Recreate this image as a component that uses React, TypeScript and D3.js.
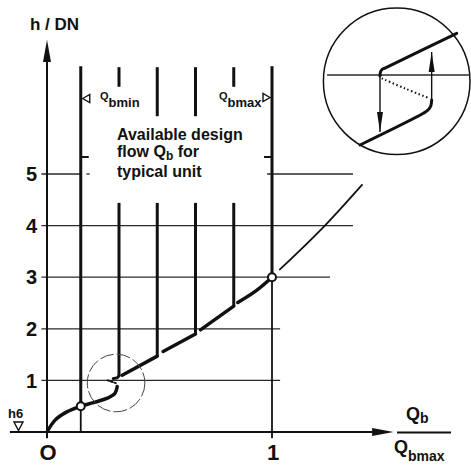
import React, { useRef, useEffect } from 'react';
import * as d3 from 'd3';

type Pt = [number, number];

const width = 471;
const height = 468;

// axis ticks
const xTicks = [0, 1];
const xTickText = ['O', '1'];
const yTicks = [1, 2, 3, 4, 5];

// horizontal h/DN grid lines, as [from, to] pieces in Qb/Qbmax
const gridPieces: Pt[][] = [
  [[-0.025, 1.036]],
  [[-0.025, 1.036]],
  [[-0.025, 1.258]],
  [[-0.025, 1.36]],
  [[-0.025, 0.15], [0.175, 0.19], [0.978, 1.36]],
];

// limits of the typical unit
const qbMin = 0.15;
const qbMax = 1.0;
const limitTop = 7.09;
const limitTick = 5.33;
const qbMinPoint: Pt = [0.15, 0.5];
const qbMaxPoint: Pt = [1.0, 3.0];

// intermediate unit lines (upper stub and lower drop to the curve)
const unitQ = [0.32, 0.49, 0.66, 0.83];
const unitStubTop = 7.07;
const unitStubEnd = [6.69, 6.12, 6.12, 6.69];
const unitDropTop = 4.44;
const unitDropEnd = [1.08, 1.47, 1.9, 2.44];

// characteristic h/DN over Qb/Qbmax
const lowerBranch: Pt[] = [
  [0, 0], [0.036, 0.23], [0.088, 0.39], [0.15, 0.5], [0.206, 0.57],
  [0.265, 0.65], [0.302, 0.75], [0.312, 0.88],
];
const unstable: Pt[] = [[0.27, 1.0], [0.29, 0.97], [0.31, 0.94]];
const upperHook: Pt[] = [[0.32, 1.09], [0.312, 1.05], [0.295, 1.035]];
const upperSegments: Pt[][] = [
  [[0.334, 1.1], [0.49, 1.47]],
  [[0.516, 1.56], [0.66, 1.9]],
  [[0.682, 1.98], [0.83, 2.44]],
  [[0.848, 2.51], [0.93, 2.74], [1.0, 3.0]],
];
const beyondMax: Pt[] = [[1.035, 3.15], [1.235, 4.0], [1.4, 4.79]];

// detail circle on the chart and its enlarged inset
const zoomCircle = { q: 0.307, h: 0.95, rq: 0.128 };
const inset = { cx: 396.7, cy: 81.3, r: 73.3 };
const insetLevel = 0.086;
const insetUpper: Pt[] = [[-0.228, 0.072], [-0.221, 0.127], [-0.2, 0.161], [-0.16, 0.181], [0.819, 0.655]];
const insetLower: Pt[] = [[-0.5, -0.869], [0.363, -0.437], [0.427, -0.392], [0.465, -0.337], [0.477, -0.255]];
const insetDotted: Pt[] = [[-0.205, 0.041], [0.113, -0.098], [0.445, -0.232]];
const insetDown: Pt[] = [[-0.228, 0.072], [-0.228, -0.69]];
const insetUp: Pt[] = [[0.477, -0.255], [0.477, 0.4]];

const font = "'Liberation Sans', Arial, sans-serif";
const ink = '#111';

export default function App() {
  const svgRef = useRef<SVGSVGElement>(null);

  useEffect(() => {
    const svg = d3.select(svgRef.current).attr('width', width).attr('height', height);
    svg.selectAll('*').remove();

    const x = d3.scaleLinear().domain([0, 1]).range([47, 272]);
    const y = d3.scaleLinear().domain([0, 5]).range([432, 174]);
    const line = d3.line<Pt>().x(d => x(d[0])).y(d => y(d[1]));
    const smooth = d3.line<Pt>().x(d => x(d[0])).y(d => y(d[1])).curve(d3.curveCatmullRom.alpha(0.5));

    svg.append('rect').attr('width', width).attr('height', height).attr('fill', '#fff');

    // grid
    const grid = svg.append('g').attr('stroke', '#2a2a2a').attr('stroke-width', 1.3);
    yTicks.forEach((h, i) => {
      gridPieces[i].forEach(([a, b]) => {
        grid.append('line')
          .attr('x1', x(a)).attr('x2', x(b))
          .attr('y1', y(h)).attr('y2', y(h));
      });
    });

    // axes
    const axes = svg.append('g').attr('stroke', ink).attr('stroke-width', 2).attr('fill', ink);
    axes.append('line')
      .attr('x1', x(0)).attr('x2', x(0))
      .attr('y1', y(-0.12)).attr('y2', y(7.2));
    axes.append('path')
      .attr('stroke', 'none')
      .attr('d', `M${x(0)},${y(7.6)} L${x(0) - 4},${y(7.17)} L${x(0) + 4},${y(7.17)} Z`);
    axes.append('line')
      .attr('x1', x(-0.165)).attr('x2', x(1.46))
      .attr('y1', y(0)).attr('y2', y(0));
    axes.append('path')
      .attr('stroke', 'none')
      .attr('d', `M${x(1.54)},${y(0)} L${x(1.445)},${y(0) - 4} L${x(1.445)},${y(0) + 4} Z`);
    axes.append('line')
      .attr('x1', x(1)).attr('x2', x(1))
      .attr('y1', y(0)).attr('y2', y(-0.12))
      .attr('stroke-width', 1.8);

    // tick labels
    const labels = svg.append('g')
      .attr('font-family', font).attr('font-weight', 'bold').attr('fill', ink);
    labels.selectAll('text.y')
      .data(yTicks)
      .enter()
      .append('text')
      .attr('x', 37)
      .attr('y', d => y(d))
      .attr('dy', '0.36em')
      .attr('text-anchor', 'end')
      .attr('font-size', 20)
      .text(d => d);
    labels.selectAll('text.x')
      .data(xTicks)
      .enter()
      .append('text')
      .attr('x', d => x(d) + 1)
      .attr('y', 460)
      .attr('text-anchor', 'middle')
      .attr('font-size', 22)
      .text((_, i) => xTickText[i]);

    labels.append('text').attr('x', 30).attr('y', 30).attr('font-size', 17).text('h / DN');

    // Qb / Qbmax fraction
    const qb = labels.append('text').attr('x', 406).attr('y', 420).attr('font-size', 18);
    qb.append('tspan').text('Q');
    qb.append('tspan').attr('dy', 3).attr('font-size', 14).text('b');
    labels.append('line')
      .attr('x1', 397).attr('x2', 451).attr('y1', 432.5).attr('y2', 432.5)
      .attr('stroke', ink).attr('stroke-width', 2);
    const qbm = labels.append('text').attr('x', 394).attr('y', 453).attr('font-size', 18);
    qbm.append('tspan').text('Q');
    qbm.append('tspan').attr('dy', 8).attr('font-size', 14).text('bmax');

    // h6 marker
    labels.append('text').attr('x', 8).attr('y', 418).attr('font-size', 13).text('h6');
    svg.append('path')
      .attr('d', `M14,422 L23,422 L18.5,${y(0) - 1.5} Z`)
      .attr('fill', 'none').attr('stroke', ink).attr('stroke-width', 1.4);

    // limit lines Qbmin / Qbmax
    const limits = svg.append('g').attr('stroke', ink).attr('fill', 'none');
    [[qbMin, qbMinPoint[1]], [qbMax, qbMaxPoint[1]]].forEach(([q, h]) => {
      limits.append('line')
        .attr('x1', x(q)).attr('x2', x(q)).attr('y1', y(limitTop)).attr('y2', y(h))
        .attr('stroke-width', 3);
      limits.append('line')
        .attr('x1', x(q)).attr('x2', x(q)).attr('y1', y(h)).attr('y2', y(0))
        .attr('stroke-width', 1.8);
    });
    limits.append('line')
      .attr('x1', x(qbMin)).attr('x2', x(qbMin) + 8)
      .attr('y1', y(limitTick)).attr('y2', y(limitTick)).attr('stroke-width', 2);
    limits.append('line')
      .attr('x1', x(qbMax)).attr('x2', x(qbMax) - 8)
      .attr('y1', y(limitTick)).attr('y2', y(limitTick)).attr('stroke-width', 2);
    // open triangles
    limits.append('path')
      .attr('d', `M${x(qbMin) + 2},98.5 L${x(qbMin) + 9},94.5 L${x(qbMin) + 9},102.5 Z`)
      .attr('stroke-width', 1.4);
    limits.append('path')
      .attr('d', `M${x(qbMax) - 2},97.5 L${x(qbMax) - 9},93.5 L${x(qbMax) - 9},101.5 Z`)
      .attr('stroke-width', 1.4);

    const qmin = labels.append('text').attr('x', 100).attr('y', 99.5).attr('font-size', 11);
    qmin.append('tspan').text('Q');
    qmin.append('tspan').attr('dy', 7.5).attr('font-size', 13).text('bmin');
    const qmax = labels.append('text').attr('x', 219).attr('y', 99.5).attr('font-size', 11);
    qmax.append('tspan').text('Q');
    qmax.append('tspan').attr('dy', 7.5).attr('font-size', 13).text('bmax');

    // annotation
    const note = labels.append('g').attr('font-size', 16);
    note.append('text').attr('x', 117).attr('y', 140).text('Available design');
    const flow = note.append('text').attr('x', 117).attr('y', 157);
    flow.append('tspan').text('flow Q');
    flow.append('tspan').attr('dy', 3).attr('font-size', 12).text('b');
    flow.append('tspan').attr('dy', -3).text(' for');
    note.append('text').attr('x', 117).attr('y', 177).text('typical unit');

    // unit lines
    const units = svg.append('g').attr('stroke', ink).attr('stroke-width', 3).attr('fill', 'none');
    unitQ.forEach((q, i) => {
      units.append('line')
        .attr('x1', x(q)).attr('x2', x(q))
        .attr('y1', y(unitStubTop)).attr('y2', y(unitStubEnd[i]));
      units.append('line')
        .attr('x1', x(q)).attr('x2', x(q))
        .attr('y1', y(unitDropTop)).attr('y2', y(unitDropEnd[i]));
    });

    // characteristic
    const curve = svg.append('g').attr('stroke', ink).attr('fill', 'none')
      .attr('stroke-linecap', 'round').attr('stroke-linejoin', 'round');
    curve.append('path').attr('d', smooth(lowerBranch)).attr('stroke-width', 3.5);
    curve.append('path').attr('d', line(unstable))
      .attr('stroke-width', 2).attr('stroke-dasharray', '1.5,2');
    curve.append('path').attr('d', smooth(upperHook)).attr('stroke-width', 3);
    upperSegments.forEach(seg => {
      curve.append('path').attr('d', smooth(seg)).attr('stroke-width', 3.5);
    });
    curve.append('path')
      .attr('d', d3.line<Pt>().x(d => x(d[0])).y(d => y(d[1])).curve(d3.curveMonotoneX)(beyondMax))
      .attr('stroke-width', 1.8);

    // operating points
    svg.selectAll('circle.pt')
      .data([qbMinPoint, qbMaxPoint])
      .enter()
      .append('circle')
      .attr('cx', d => x(d[0]))
      .attr('cy', d => y(d[1]))
      .attr('r', 4)
      .attr('fill', '#fff')
      .attr('stroke', ink)
      .attr('stroke-width', 2);

    // detail circle
    svg.append('circle')
      .attr('cx', x(zoomCircle.q)).attr('cy', y(zoomCircle.h))
      .attr('r', x(zoomCircle.q + zoomCircle.rq) - x(zoomCircle.q))
      .attr('fill', 'none').attr('stroke', '#444').attr('stroke-width', 1)
      .attr('stroke-dasharray', '14,3');

    // inset
    const ix = d3.scaleLinear().domain([-1, 1]).range([inset.cx - inset.r, inset.cx + inset.r]);
    const iy = d3.scaleLinear().domain([-1, 1]).range([inset.cy + inset.r, inset.cy - inset.r]);
    const iline = d3.line<Pt>().x(d => ix(d[0])).y(d => iy(d[1]));
    const ismooth = d3.line<Pt>().x(d => ix(d[0])).y(d => iy(d[1])).curve(d3.curveCatmullRom.alpha(0.5));
    const ig = svg.append('g').attr('fill', 'none').attr('stroke', ink)
      .attr('stroke-linecap', 'round').attr('stroke-linejoin', 'round');
    ig.append('circle').attr('cx', inset.cx).attr('cy', inset.cy).attr('r', inset.r)
      .attr('stroke-width', 1.5);
    ig.append('line')
      .attr('x1', ix(-0.95)).attr('x2', ix(1)).attr('y1', iy(insetLevel)).attr('y2', iy(insetLevel))
      .attr('stroke', '#2a2a2a').attr('stroke-width', 1.3).attr('stroke-linecap', 'butt');
    ig.append('path').attr('d', ismooth(insetUpper)).attr('stroke-width', 3);
    ig.append('path').attr('d', ismooth(insetLower)).attr('stroke-width', 3);
    ig.append('path').attr('d', ismooth(insetDotted))
      .attr('stroke-width', 2).attr('stroke-dasharray', '1.5,2.5').attr('stroke-linecap', 'butt');
    [insetDown, insetUp].forEach(seg => {
      const [, tip] = seg;
      const dir = tip[1] > seg[0][1] ? 1 : -1;
      ig.append('path').attr('d', iline(seg)).attr('stroke-width', 1.4).attr('stroke-linecap', 'butt');
      const tx = ix(tip[0]);
      const ty = iy(tip[1]);
      ig.append('path')
        .attr('d', `M${tx},${ty} L${tx - 3},${ty + dir * 20} L${tx + 3},${ty + dir * 20} Z`)
        .attr('fill', ink).attr('stroke', 'none');
    });
  }, []);

  return (
    <svg
      ref={svgRef}
      style={{ position: 'absolute', left: 0, top: 0, display: 'block' }}
    />
  );
}
